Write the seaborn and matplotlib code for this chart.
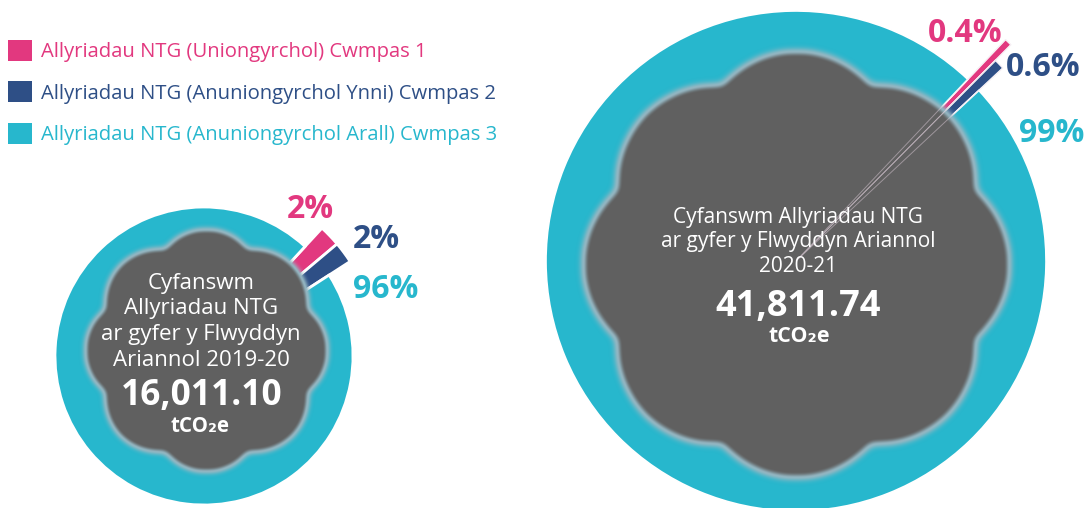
import numpy as np
import matplotlib
matplotlib.use("Agg")
import matplotlib.pyplot as plt
import seaborn as sns

# ---------------- data ----------------
categories = [
    "Allyriadau NTG (Uniongyrchol) Cwmpas 1",
    "Allyriadau NTG (Anuniongyrchol Ynni) Cwmpas 2",
    "Allyriadau NTG (Anuniongyrchol Arall) Cwmpas 3",
]
shares_2019 = [2, 2, 96]
shares_2020 = [0.4, 0.6, 99]
pct_labels_2019 = ["2%", "2%", "96%"]
pct_labels_2020 = ["0.4%", "0.6%", "99%"]
title_2019 = ["Cyfanswm", "Allyriadau NTG", "ar gyfer y Flwyddyn", "Ariannol 2019-20"]
title_2020 = ["Cyfanswm Allyriadau NTG", "ar gyfer y Flwyddyn Ariannol", "2020-21"]
total_2019 = "16,011.10"
total_2020 = "41,811.74"
unit = "tCO\u2082e"

# ---------------- style ----------------
sns.set_theme(style="white")
plt.rcParams["font.family"] = ["Open Sans", "DejaVu Sans"]
palette = sns.color_palette(["#E2387F", "#2E4F86", "#27B7CD"])
GRAY = np.array([96, 96, 96]) / 255.0
GLOW = np.array([148, 182, 194]) / 255.0

W, H = 1087, 508
fig = plt.figure(figsize=(W / 100, H / 100), dpi=100)
ax = fig.add_axes([0, 0, 1, 1])


def Y(y):
    return H - y


def draw_pie(shares, cx, cy, r, start, out_r, lw):
    wedges, _ = ax.pie(shares, colors=palette, startangle=start, counterclock=False,
                       center=(cx, Y(cy)), radius=r, frame=True,
                       wedgeprops=dict(edgecolor="white", linewidth=lw))
    for w, rr in zip(wedges[:2], out_r):
        w.set_radius(rr)
    for w in wedges:
        w.set_zorder(1)
    return wedges


wedges_l = draw_pie(shares_2019, 204, 356, 149, 47.3, [174, 174], 2.0)
wedges_r = draw_pie(shares_2020, 796, 261, 250, 46.6, [305, 283], 1.2)

# faint wedge outlines visible through the right cloud
over, _ = ax.pie(shares_2020, startangle=46.6, counterclock=False, center=(796, Y(261)),
                 radius=250, frame=True,
                 wedgeprops=dict(fill=False, edgecolor="#e9d7e4", linewidth=0.7, alpha=0.45))
over[2].set_visible(False)
for w, rr in zip(over[:2], [305, 283]):
    w.set_radius(rr)
    w.set_zorder(3)

# ---------------- cloud shapes (decorative) ----------------
yy, xx = np.mgrid[0:H, 0:W].astype(float)


def cloud_mask(cx, cy, core, lobe_r, n=8, offset=90.0):
    m = (xx - cx) ** 2 + (yy - cy) ** 2 <= core ** 2
    for k in range(n):
        a = np.deg2rad(offset + k * 360.0 / n)
        lx, ly = cx + core * np.cos(a), cy - core * np.sin(a)
        m |= (xx - lx) ** 2 + (yy - ly) ** 2 <= lobe_r ** 2
    return m.astype(float)


def gblur(a, s):
    r = int(3 * s)
    x = np.arange(-r, r + 1)
    k = np.exp(-x ** 2 / (2 * s * s))
    k /= k.sum()
    a = np.apply_along_axis(lambda v: np.convolve(v, k, mode="same"), 0, a)
    a = np.apply_along_axis(lambda v: np.convolve(v, k, mode="same"), 1, a)
    return a


def smooth(e0, e1, x):
    t = np.clip((x - e0) / (e1 - e0), 0, 1)
    return t * t * (3 - 2 * t)


b = np.maximum(gblur(cloud_mask(206, 350, 68, 53), 4.5),
               gblur(cloud_mask(796, 264, 116, 97), 5.5))
t = smooth(0.45, 0.85, b)[..., None]
rgb = GLOW * (1 - t) + GRAY * t
alpha = smooth(0.02, 0.5, b)[..., None]
img = np.concatenate([rgb, alpha], axis=2)
ax.imshow(img, extent=(0, W, 0, H), origin="upper", zorder=2, interpolation="bilinear")

# ---------------- texts ----------------
for i, line in enumerate(title_2019):
    ax.text(201, Y(283 + i * 25.7), line, color="white", fontsize=16,
            ha="center", va="center", zorder=4)
ax.text(202, Y(396), total_2019, color="white", fontsize=25.5, fontweight="bold",
        ha="center", va="center", zorder=4)
ax.text(200, Y(427), unit, color="white", fontsize=14.8, fontweight="bold",
        ha="center", va="center", zorder=4)

for i, line in enumerate(title_2020):
    ax.text(798, Y(217 + i * 25), line, color="white", fontsize=15,
            ha="center", va="center", zorder=4)
ax.text(798, Y(307), total_2020, color="white", fontsize=26, fontweight="bold",
        ha="center", va="center", zorder=4)
ax.text(799, Y(337), unit, color="white", fontsize=15.3, fontweight="bold",
        ha="center", va="center", zorder=4)

for lab, col, (x, y) in zip(pct_labels_2019, palette, [(310, 210), (376, 240), (386, 290)]):
    ax.text(x, Y(y), lab, color=col, fontsize=23, fontweight="bold",
            ha="center", va="center", zorder=4)
for lab, col, (x, y) in zip(pct_labels_2020, palette, [(965, 33), (1043, 67), (1052, 134)]):
    ax.text(x, Y(y), lab, color=col, fontsize=23, fontweight="bold",
            ha="center", va="center", zorder=4)

# ---------------- legend ----------------
leg = ax.legend(wedges_l, categories, loc="upper left",
                bbox_to_anchor=(8 / W, 1 - 40 / H), bbox_transform=fig.transFigure,
                frameon=False, fontsize=14.6, handlelength=1.2, handleheight=1.2,
                handletextpad=0.45, labelspacing=0.95, borderpad=0, borderaxespad=0)
for txt, col in zip(leg.get_texts(), palette):
    txt.set_color(col)
for h in leg.legend_handles:
    h.set_linewidth(0)

ax.set_xlim(0, W)
ax.set_ylim(0, H)
ax.set_aspect("auto")
ax.axis("off")
fig.savefig("out.png", dpi=100, facecolor="white")
